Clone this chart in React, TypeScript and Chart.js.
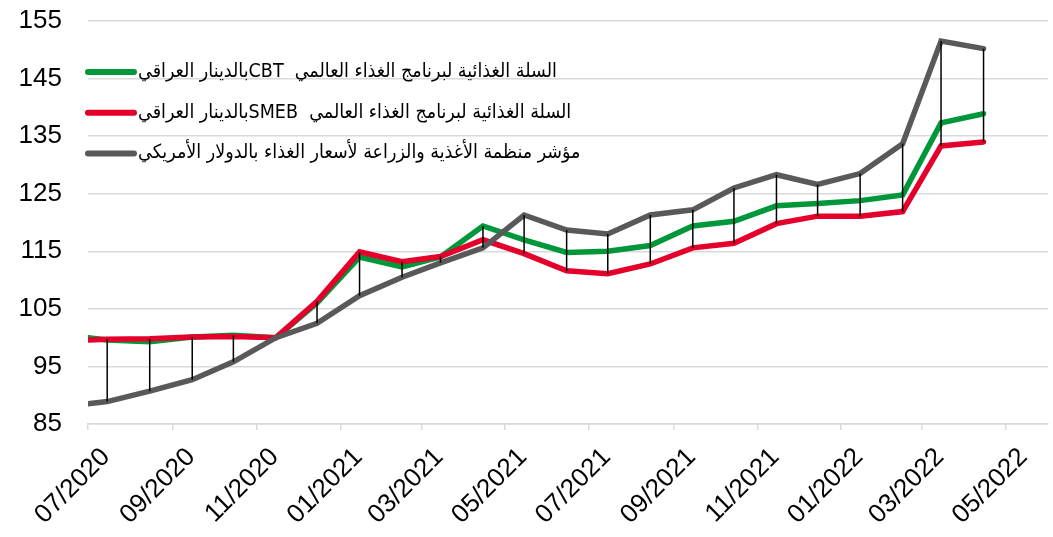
import React, { useEffect, useRef } from "react";
import { Chart, registerables } from "chart.js";

Chart.register(...registerables);

// ---- data ----
const axisStart = "2020-07-01";
const axisEnd = "2022-06-01";

const dates = [
  "2020-07-01", "2020-07-15", "2020-08-15", "2020-09-15", "2020-10-15", "2020-11-15",
  "2020-12-15", "2021-01-15", "2021-02-15", "2021-03-15", "2021-04-15", "2021-05-15",
  "2021-06-15", "2021-07-15", "2021-08-15", "2021-09-15", "2021-10-15", "2021-11-15",
  "2021-12-15", "2022-01-15", "2022-02-15", "2022-03-15", "2022-04-15",
];

const cbtValues = [
  100.0, 99.6, 99.3, 100.1, 100.4, 100.0, 106.0, 114.0, 112.3, 114.0, 119.4, 117.0,
  114.8, 115.0, 116.0, 119.4, 120.2, 122.9, 123.3, 123.8, 124.8, 137.3, 138.9,
];

const smebValues = [
  99.6, 99.7, 99.8, 100.1, 100.2, 100.0, 106.3, 114.9, 113.2, 114.1, 117.0, 114.6,
  111.6, 111.1, 112.8, 115.6, 116.4, 119.8, 121.1, 121.1, 121.9, 133.3, 134.0,
];

const faoValues = [
  88.5, 88.9, 90.7, 92.7, 95.8, 100.0, 102.5, 107.3, 110.5, 113.0, 115.6, 121.3,
  118.7, 118.0, 121.3, 122.2, 126.0, 128.3, 126.6, 128.5, 133.7, 151.5, 150.2,
];

const seriesLabels = [
  "السلة الغذائية لبرنامج الغذاء العالمي  CBTبالدينار العراقي",
  "السلة الغذائية لبرنامج الغذاء العالمي  SMEBبالدينار العراقي",
  "مؤشر منظمة الأغذية والزراعة لأسعار الغذاء بالدولار الأمريكي",
];

const seriesColors = ["#00973A", "#E4002B", "#595959"];

const tickDates = [
  "2020-07-01", "2020-09-01", "2020-11-01", "2021-01-01", "2021-03-01", "2021-05-01",
  "2021-07-01", "2021-09-01", "2021-11-01", "2022-01-01", "2022-03-01", "2022-05-01",
];

const tickLabels = [
  "07/2020", "09/2020", "11/2020", "01/2021", "03/2021", "05/2021",
  "07/2021", "09/2021", "11/2021", "01/2022", "03/2022", "05/2022",
];

const yMin = 85;
const yMax = 155;
const yStep = 10;

// ---- helpers ----
function toUTC(s: string): number {
  const [y, m, d] = s.split("-").map(Number);
  return Date.UTC(y, m - 1, d);
}
function dayIndex(s: string): number {
  return (toUTC(s) - toUTC(axisStart)) / 86400000;
}

const FONT = "'Liberation Sans', 'DejaVu Sans', sans-serif";
const LEGEND_FONT = "'DejaVu Sans Condensed', 'DejaVu Sans', sans-serif";

const hiLowLines = {
  id: "hiLowLines",
  afterDatasetsDraw(chart: any) {
    const ctx = chart.ctx;
    const metas = chart.data.datasets.map((_: any, i: number) => chart.getDatasetMeta(i));
    ctx.save();
    ctx.strokeStyle = "#000000";
    ctx.lineWidth = 1.5;
    for (let i = 0; i < dates.length; i++) {
      const pts = metas.map((m: any) => m.data[i]);
      const x = pts[0].x;
      if (x <= chart.chartArea.left + 1) continue;
      const ys = pts.map((p: any) => p.y);
      ctx.beginPath();
      ctx.moveTo(x, Math.min(...ys));
      ctx.lineTo(x, Math.max(...ys));
      ctx.stroke();
    }
    ctx.restore();
  },
};

const insideLegend = {
  id: "insideLegend",
  afterDraw(chart: any, _args: any, opts: any) {
    const ctx = chart.ctx;
    ctx.save();
    chart.data.datasets.forEach((ds: any, i: number) => {
      const y = opts.top + i * opts.rowGap;
      ctx.strokeStyle = ds.borderColor;
      ctx.lineWidth = 6;
      ctx.lineCap = "round";
      ctx.beginPath();
      ctx.moveTo(opts.left, y);
      ctx.lineTo(opts.left + opts.lineLength, y);
      ctx.stroke();
      ctx.direction = "rtl";
      ctx.textAlign = "left";
      ctx.textBaseline = "middle";
      ctx.fillStyle = "#000000";
      ctx.font = `${opts.fontSize}px ${LEGEND_FONT}`;
      ctx.fillText(ds.label, opts.left + opts.lineLength + opts.gap, y);
    });
    ctx.restore();
  },
};

export default function App() {
  const ref = useRef<HTMLCanvasElement>(null);

  useEffect(() => {
    if (!ref.current) return;
    const valueSets = [cbtValues, smebValues, faoValues];
    const drawOrder = [2, 1, 0];
    const datasets = valueSets.map((vals, k) => ({
      label: seriesLabels[k],
      data: dates.map((d, i) => ({ x: dayIndex(d), y: vals[i] })),
      borderColor: seriesColors[k],
      backgroundColor: seriesColors[k],
      borderWidth: 5.5,
      pointRadius: 0,
      tension: 0,
      order: drawOrder[k],
      borderCapStyle: "round" as const,
      borderJoinStyle: "miter" as const,
    }));

    const chart = new Chart(ref.current, {
      type: "line",
      data: { datasets },
      plugins: [hiLowLines, insideLegend],
      options: {
        animation: false,
        responsive: false,
        devicePixelRatio: 1,
        layout: { padding: { top: 21, right: 5, left: 0, bottom: 0 } },
        plugins: {
          legend: { display: false },
          tooltip: { enabled: false },
          // @ts-ignore
          insideLegend: { left: 88, top: 72, rowGap: 40.7, lineLength: 46, gap: 4, fontSize: 19.5 },
        },
        scales: {
          x: {
            type: "linear",
            min: 0,
            max: dayIndex(axisEnd),
            afterBuildTicks: (scale: any) => {
              scale.ticks = tickDates.map((d) => ({ value: dayIndex(d) }));
            },
            afterFit: (scale: any) => {
              scale.height = 113;
            },
            grid: {
              display: true,
              drawOnChartArea: false,
              drawTicks: true,
              tickLength: 6,
              color: "#d9d9d9",
              lineWidth: 1.5,
            },
            border: { display: true, color: "#d9d9d9", width: 1.5 },
            ticks: {
              autoSkip: false,
              maxRotation: 45,
              minRotation: 45,
              padding: 12,
              labelOffset: 18,
              color: "#000000",
              font: { family: FONT, size: 26 },
              callback: (_v: any, i: number) => tickLabels[i],
            },
          },
          y: {
            min: yMin,
            max: yMax,
            afterFit: (scale: any) => {
              scale.width = 88;
              scale.paddingTop = 0;
              scale.paddingBottom = 0;
            },
            ticks: {
              stepSize: yStep,
              padding: 26,
              color: "#000000",
              font: { family: FONT, size: 26 },
            },
            grid: { color: "#d9d9d9", lineWidth: 1.5, drawTicks: false },
            border: { display: false },
          },
        },
      },
    });
    return () => chart.destroy();
  }, []);

  return (
    <div style={{ position: "absolute", left: 0, top: 0, width: 1053, height: 537, background: "#ffffff" }}>
      <canvas ref={ref} width={1053} height={537} style={{ display: "block" }} />
    </div>
  );
}
